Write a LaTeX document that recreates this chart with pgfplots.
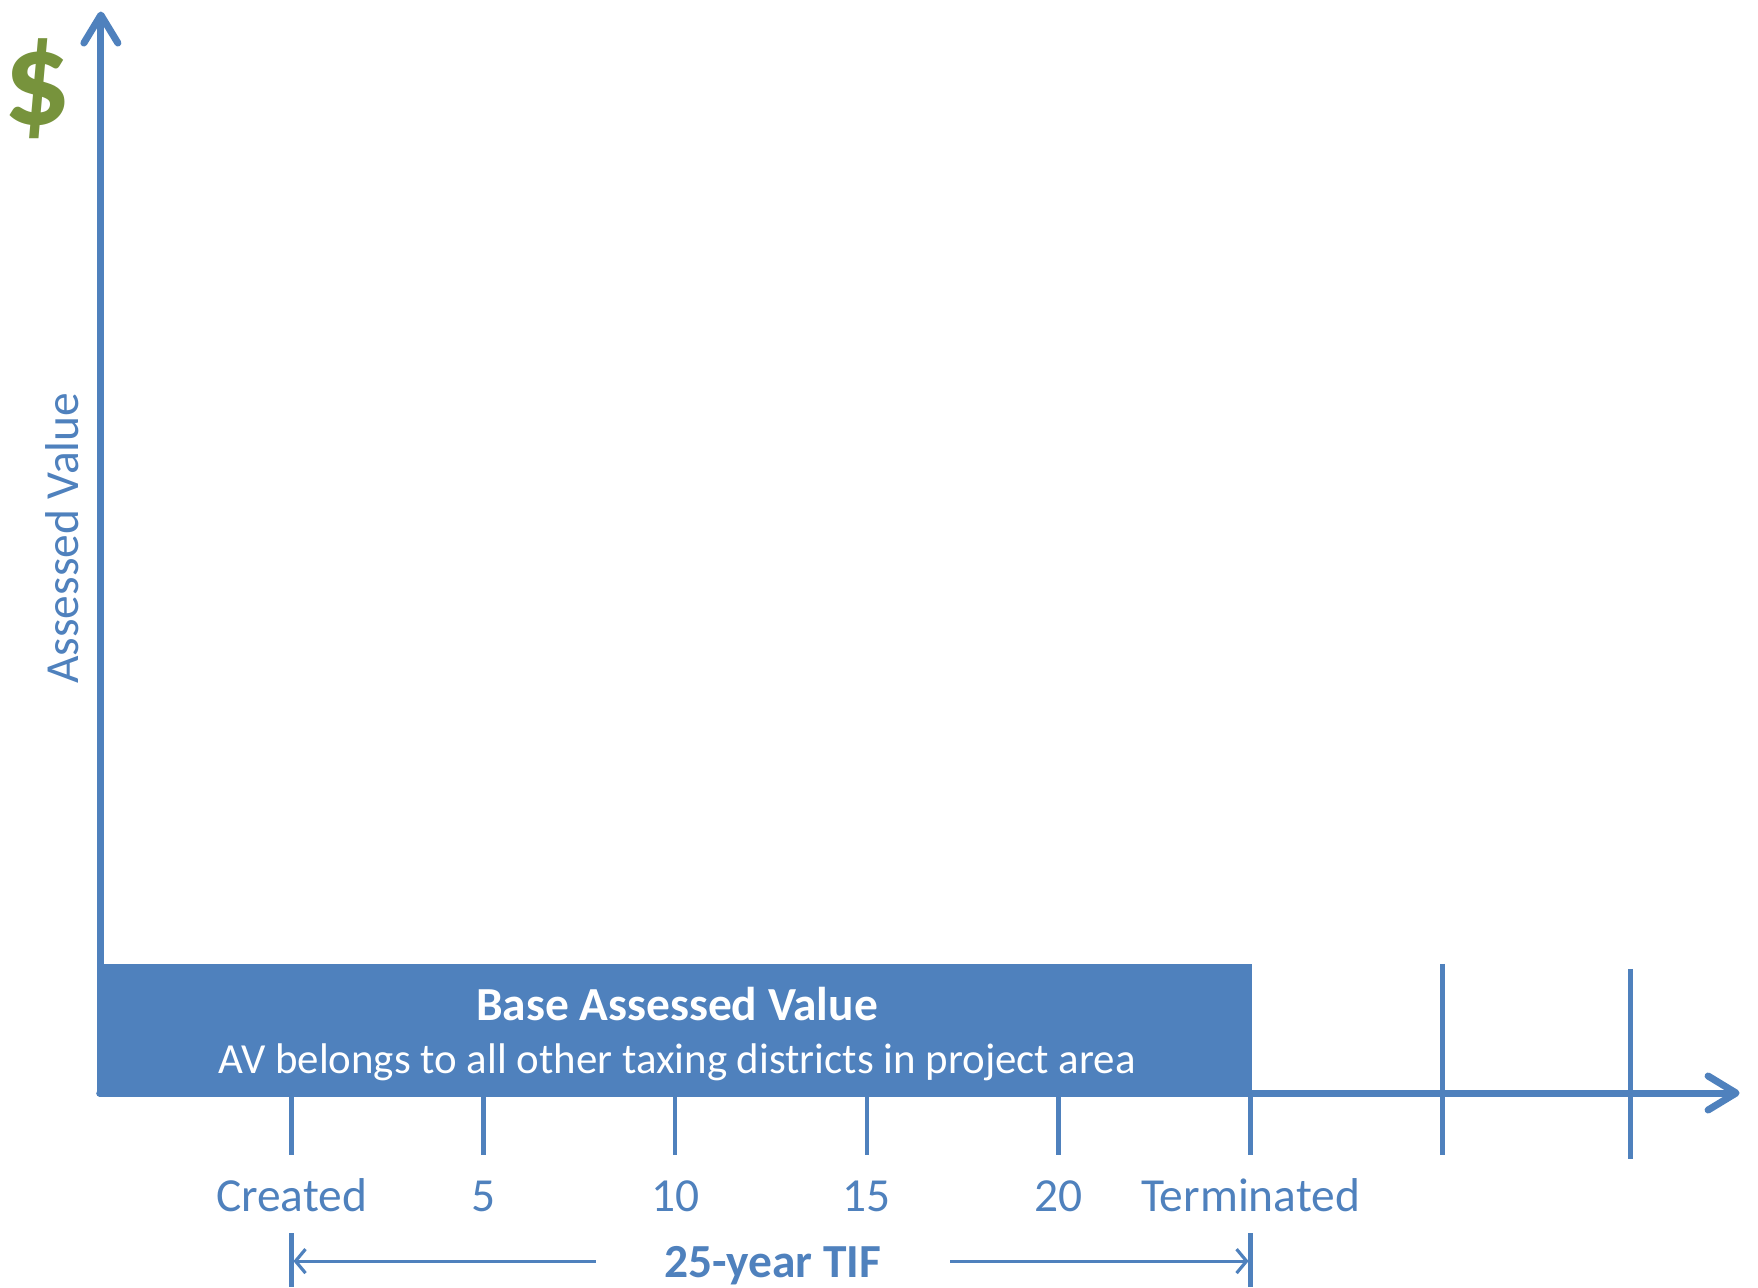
\documentclass[border=0pt]{standalone}
\usepackage{pgfplots}
\pgfplotsset{compat=1.18}
\usepackage{fontspec}
\setmainfont{Carlito}
\usetikzlibrary{arrows.meta}
\definecolor{tifblue}{HTML}{4F81BD}
\definecolor{tifgreen}{HTML}{77933C}
\tikzset{lbl/.style={font=\fontsize{13.5}{16}\selectfont, text=tifblue, inner sep=0pt},
         blbl/.style={font=\fontsize{13.5}{16}\selectfont\bfseries, text=tifblue, inner sep=0pt}}
\begin{document}
\begin{tikzpicture}
\begin{axis}[
  width=17.58cm, height=12.88cm, scale only axis,
  xmin=-7.6, xmax=38.23, ymin=-17.92, ymax=100.46,
  axis line style={draw=none}, xtick=\empty, ytick=\empty,
  clip=false,
]
% x axis
\addplot[tifblue, line width=2pt, line cap=round,
  -{Straight Barb[length=2.8mm, width=3.4mm, round]}] coordinates {(-5,0) (37.75,0)};
% y axis
\addplot[tifblue, line width=2pt, line cap=round,
  -{Straight Barb[length=2.8mm, width=3.4mm, round]}] coordinates {(-4.97,0) (-4.97,99.4)};
% base bar
\addplot[fill=tifblue, draw=none] coordinates {(-5.02,0) (25.04,0) (25.04,11.86) (-5.02,11.86)} --cycle;
% ticks below axis
\addplot[tifblue, line width=1.3pt] coordinates {(0,0) (0,-5.7)};
\addplot[tifblue, line width=1.3pt] coordinates {(5,0) (5,-5.7)};
\addplot[tifblue, line width=1.3pt] coordinates {(10,0) (10,-5.7)};
\addplot[tifblue, line width=1.3pt] coordinates {(15,0) (15,-5.7)};
\addplot[tifblue, line width=1.3pt] coordinates {(20,0) (20,-5.7)};
\addplot[tifblue, line width=1.3pt] coordinates {(25,0) (25,-5.7)};
\addplot[tifblue, line width=1.3pt] coordinates {(30,11.86) (30,-5.7)};
\addplot[tifblue, line width=1.3pt] coordinates {(34.9,11.4) (34.9,-6.1)};
% TIF span
\addplot[tifblue, line width=1.3pt] coordinates {(0,-12.9) (0,-17.8)};
\addplot[tifblue, line width=1.3pt] coordinates {(25,-12.9) (25,-17.8)};
\addplot[tifblue, line width=0.9pt, {Straight Barb[length=1mm, width=2.4mm]}-] coordinates {(0.05,-15.45) (7.95,-15.45)};
\addplot[tifblue, line width=0.9pt, -{Straight Barb[length=1mm, width=2.4mm]}] coordinates {(17.17,-15.45) (24.95,-15.45)};
% labels
\node[lbl, anchor=base] at (axis cs:0,-10.9) {Created};
\node[lbl, anchor=base] at (axis cs:5,-10.9) {5};
\node[lbl, anchor=base] at (axis cs:10,-10.9) {10};
\node[lbl, anchor=base] at (axis cs:15,-10.9) {15};
\node[lbl, anchor=base] at (axis cs:20,-10.9) {20};
\node[lbl, anchor=base] at (axis cs:25,-10.9) {Terminated};
\node[blbl, anchor=base] at (axis cs:12.55,-17.0) {25-year TIF};
\node[blbl, text=white, anchor=base] at (axis cs:10.05,6.7) {Base Assessed Value};
\node[lbl, font=\fontsize{12.2}{15}\selectfont, text=white, anchor=base] at (axis cs:10.05,1.8) {AV belongs to all other taxing districts in project area};
\node[lbl, rotate=90] at (axis cs:-5.99,51.0) {Assessed Value};
\node[text=tifgreen, font=\fontsize{38}{42}\selectfont\bfseries] at (axis cs:-6.63,92.3) {\$};
\end{axis}
\pgfresetboundingbox
\path[use as bounding box] (current axis.south west) rectangle (current axis.north east);
\end{tikzpicture}
\end{document}
